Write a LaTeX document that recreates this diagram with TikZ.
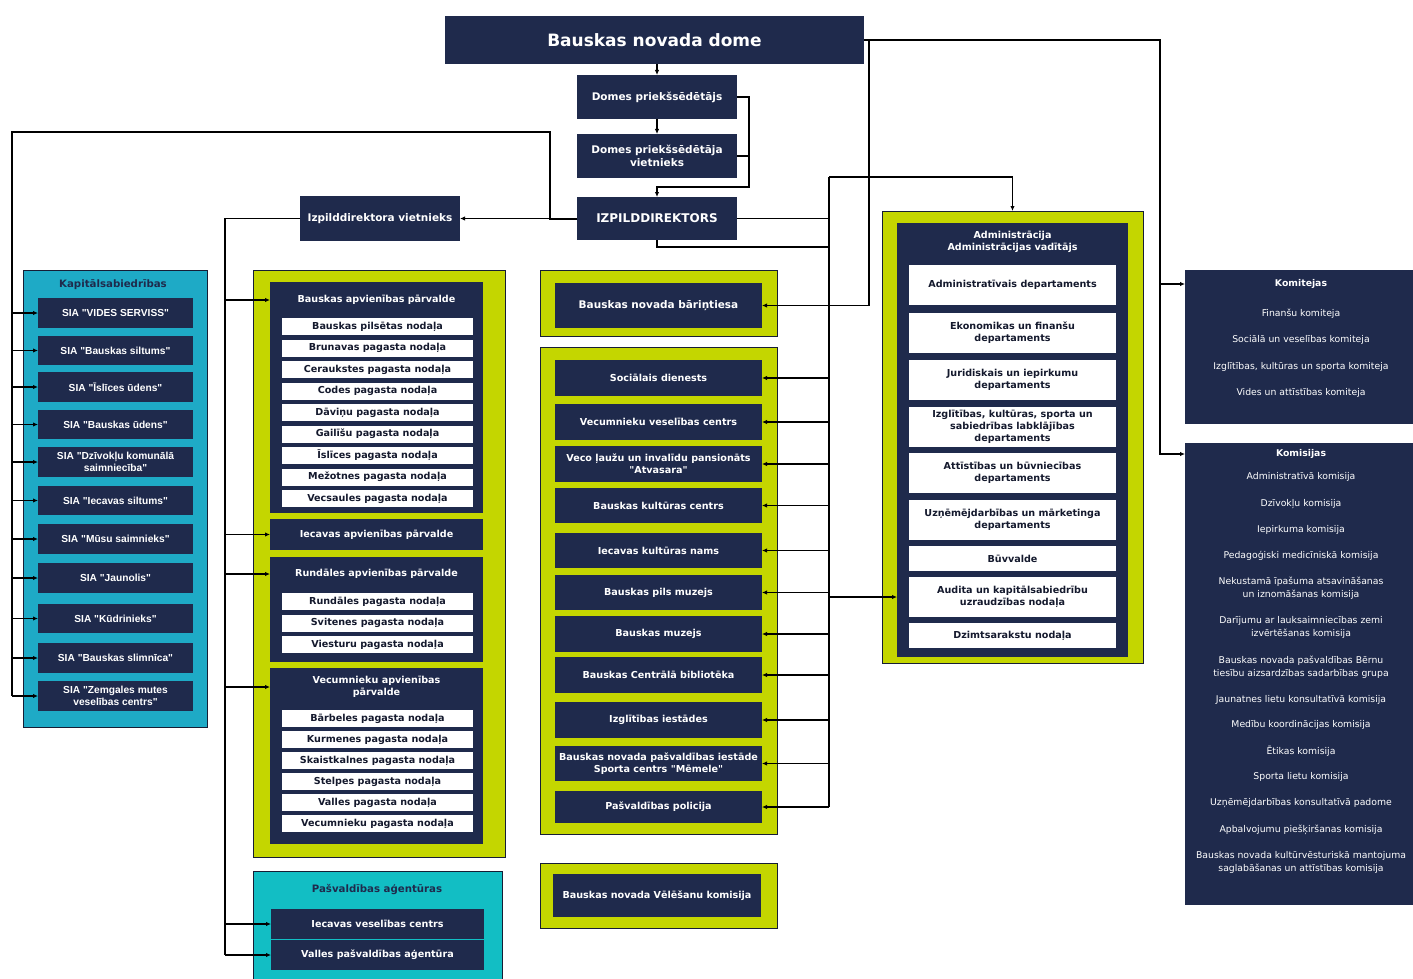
\documentclass[tikz,border=0pt]{standalone}
\usepackage{fontspec}
\setmainfont{DejaVu Sans}[Ligatures=TeXOff]
\newfontfamily\arialfont{Liberation Sans}
\usetikzlibrary{arrows.meta}
\definecolor{navy}{RGB}{31,42,76}
\definecolor{lime}{RGB}{196,214,0}
\definecolor{tealA}{RGB}{30,170,198}
\definecolor{tealB}{RGB}{18,190,196}
\definecolor{itemtxt}{RGB}{20,25,45}
\newcommand{\q}{\symbol{34}}
\tikzset{
 base/.style={inner sep=0pt, outer sep=0pt, align=center, font=\bfseries\fontsize{9.6}{12}\selectfont},
 dk/.style={base, fill=navy, text=white},
 dkbig/.style={dk, font=\bfseries\fontsize{10.5}{13}\selectfont},
 wt/.style={base, fill=white, text=itemtxt},
 sia/.style={dk, font=\arialfont\bfseries\fontsize{10.2}{11.5}\selectfont},
 grp/.style={base, draw=navy!70!black, line width=0.8pt},
 conn/.style={draw=black, line width=1.1pt},
 arr/.style={conn, -{Latex[length=5pt,width=4.5pt]}},
 lbl/.style={inner sep=0pt, outer sep=0pt, align=center, text=white, font=\fontsize{9.3}{13}\selectfont},
 ttl/.style={inner sep=0pt, outer sep=0pt, align=center, font=\bfseries\fontsize{9.6}{12}\selectfont},
}
\newcommand{\rb}[7]{\node[#2, minimum width={(#5-#3)*1pt}, minimum height={(#6-#4)*1pt}] (#1) at ({(#3+#5)/2},{(#4+#6)/2}) {#7};}
\begin{document}
\begin{tikzpicture}[x=1pt,y=-1pt]
\useasboundingbox (0,0) rectangle (1413,979);
\fill[white] (0,0) rectangle (1413,979);
\clip (0,0) rectangle (1413,979);

% ---------- top ----------
\rb{dome}{dk, font=\bfseries\fontsize{17}{20}\selectfont}{445}{16}{864}{64}{Bauskas novada dome}
\rb{pr}{dkbig}{577}{75}{737}{119}{Domes priekšsēdētājs}
\rb{vp}{dkbig}{577}{134}{737}{178}{Domes priekšsēdētāja\\vietnieks}
\rb{izd}{dk, font=\bfseries\fontsize{12}{14}\selectfont}{577}{197}{737}{240}{IZPILDDIREKTORS}
\rb{ivn}{dkbig}{300}{196}{460}{241}{Izpilddirektora vietnieks}

% ---------- Kapitalsabiedribas ----------
\rb{kap}{grp, fill=tealA}{23}{270}{207}{727}{}
\node[ttl, text=navy, font=\bfseries\fontsize{10.2}{12}\selectfont] (kapt) at (113,285) {Kapitālsabiedrības};
\rb{s1}{sia}{38}{298}{193}{328}{SIA \q VIDES SERVISS\q}
\rb{s2}{sia}{38}{336}{193}{365}{SIA \q Bauskas siltums\q}
\rb{s3}{sia}{38}{372}{193}{402}{SIA \q Īslīces ūdens\q}
\rb{s4}{sia}{38}{410}{193}{439}{SIA \q Bauskas ūdens\q}
\rb{s5}{sia}{38}{447}{193}{477}{SIA \q Dzīvokļu komunālā\\saimniecība\q}
\rb{s6}{sia}{38}{486}{193}{515}{SIA \q Iecavas siltums\q}
\rb{s7}{sia}{38}{524}{193}{554}{SIA \q Mūsu saimnieks\q}
\rb{s8}{sia}{38}{563}{193}{593}{SIA \q Jaunolis\q}
\rb{s9}{sia}{38}{604}{193}{633}{SIA \q Kūdrinieks\q}
\rb{s10}{sia}{38}{643}{193}{673}{SIA \q Bauskas slimnīca\q}
\rb{s11}{sia}{38}{681}{193}{711}{SIA \q Zemgales mutes\\veselības centrs\q}

% ---------- apvienibu parvaldes ----------
\rb{gl}{grp, fill=lime}{253}{270}{505}{857}{}
\rb{bap}{dk}{270}{282}{483}{513}{}
\node[ttl, text=white] (bapt) at (376.5,300) {Bauskas apvienības pārvalde};
\rb{b1}{wt}{282}{318}{473}{335}{Bauskas pilsētas nodaļa}
\rb{b2}{wt}{282}{339.5}{473}{356.5}{Brunavas pagasta nodaļa}
\rb{b3}{wt}{282}{361}{473}{378}{Ceraukstes pagasta nodaļa}
\rb{b4}{wt}{282}{382.5}{473}{399.5}{Codes pagasta nodaļa}
\rb{b5}{wt}{282}{404}{473}{421}{Dāviņu pagasta nodaļa}
\rb{b6}{wt}{282}{425.5}{473}{442.5}{Gailīšu pagasta nodaļa}
\rb{b7}{wt}{282}{447}{473}{464}{Īslīces pagasta nodaļa}
\rb{b8}{wt}{282}{468.5}{473}{485.5}{Mežotnes pagasta nodaļa}
\rb{b9}{wt}{282}{490}{473}{507}{Vecsaules pagasta nodaļa}
\rb{iap}{dk}{270}{519}{483}{550}{Iecavas apvienības pārvalde}
\rb{rap}{dk}{270}{557}{483}{662}{}
\node[ttl, text=white] (rapt) at (376.5,574) {Rundāles apvienības pārvalde};
\rb{r1}{wt}{282}{593}{473}{610}{Rundāles pagasta nodaļa}
\rb{r2}{wt}{282}{614.5}{473}{631.5}{Svitenes pagasta nodaļa}
\rb{r3}{wt}{282}{636}{473}{653}{Viesturu pagasta nodaļa}
\rb{vap}{dk}{270}{668}{483}{844}{}
\node[ttl, text=white] (vapt) at (376.5,687) {Vecumnieku apvienības\\pārvalde};
\rb{v1}{wt}{282}{710}{473}{727}{Bārbeles pagasta nodaļa}
\rb{v2}{wt}{282}{731}{473}{748}{Kurmenes pagasta nodaļa}
\rb{v3}{wt}{282}{752}{473}{769}{Skaistkalnes pagasta nodaļa}
\rb{v4}{wt}{282}{773}{473}{790}{Stelpes pagasta nodaļa}
\rb{v5}{wt}{282}{794}{473}{811}{Valles pagasta nodaļa}
\rb{v6}{wt}{282}{815}{473}{832}{Vecumnieku pagasta nodaļa}

% ---------- pasvaldibas agenturas ----------
\rb{ag}{grp, fill=tealB}{253}{871}{502}{990}{}
\node[ttl, text=navy, font=\bfseries\fontsize{10.2}{12}\selectfont] (agt) at (377,890) {Pašvaldības aģentūras};
\rb{ivc}{dk}{271}{909}{484}{939}{Iecavas veselības  centrs}
\rb{vpa}{dk}{271}{940}{484}{970}{Valles pašvaldības aģentūra}

% ---------- middle column ----------
\rb{gb}{grp, fill=lime}{540}{270}{777}{336}{}
\rb{bar}{dkbig}{555}{283}{762}{328}{Bauskas novada bāriņtiesa}
\rb{gm}{grp, fill=lime}{540}{347}{777}{834}{}
\rb{sd}{dk}{555}{360}{762}{396}{Sociālais dienests}
\rb{vvc}{dk}{555}{404}{762}{440}{Vecumnieku veselības centrs}
\rb{vlp}{dk}{555}{446}{762}{482}{Veco ļaužu un invalīdu  pansionāts\\\q Atvasara\q}
\rb{bkc}{dk}{555}{488}{762}{523}{Bauskas kultūras centrs}
\rb{ikn}{dk}{555}{533}{762}{568}{Iecavas kultūras nams}
\rb{bpm}{dk}{555}{575}{762}{610}{Bauskas pils muzejs}
\rb{bm}{dk}{555}{616}{762}{652}{Bauskas muzejs}
\rb{bcb}{dk}{555}{657}{762}{693}{Bauskas Centrālā bibliotēka}
\rb{ii}{dk}{555}{702}{762}{738}{Izglītības iestādes}
\rb{sc}{dk}{555}{746}{762}{781}{Bauskas novada  pašvaldības iestāde\\Sporta centrs \q Mēmele\q}
\rb{pp}{dk}{555}{791}{762}{823}{Pašvaldības policija}
\rb{gv}{grp, fill=lime}{540}{863}{777}{928}{}
\rb{vk}{dk}{553}{874}{761}{917}{Bauskas novada Vēlēšanu komisija}

% ---------- administracija ----------
\rb{adm}{grp, fill=lime}{882}{211}{1143}{663}{}
\rb{admd}{dk}{897}{223}{1128}{657}{}
\node[ttl, text=white] (admt) at (1012.5,241.5) {Administrācija\\Administrācijas vadītājs};
\rb{a1}{wt}{909}{265}{1116}{305}{Administratīvais departaments}
\rb{a2}{wt}{909}{313}{1116}{353}{Ekonomikas un finanšu\\departaments}
\rb{a3}{wt}{909}{360}{1116}{400}{Juridiskais un iepirkumu\\departaments}
\rb{a4}{wt}{909}{407}{1116}{447}{Izglītības, kultūras, sporta un\\sabiedrības labklājības\\departaments}
\rb{a5}{wt}{909}{453}{1116}{493}{Attīstības un būvniecības\\departaments}
\rb{a6}{wt}{909}{500}{1116}{540}{Uzņēmējdarbības un mārketinga\\departaments}
\rb{a7}{wt}{909}{546}{1116}{571}{Būvvalde}
\rb{a8}{wt}{909}{577}{1116}{617}{Audita un kapitālsabiedrību\\uzraudzības nodaļa}
\rb{a9}{wt}{909}{623}{1116}{648}{Dzimtsarakstu nodaļa}

% ---------- komitejas / komisijas ----------
\rb{kmt}{dk}{1185}{270}{1416}{424}{}
\node[ttl, text=white, font=\bfseries\fontsize{9.3}{12}\selectfont] (kmtt) at (1301,284) {Komitejas};
\node[lbl] (k1) at (1301,314) {Finanšu komiteja};
\node[lbl] (k2) at (1301,340) {Sociālā un veselības komiteja};
\node[lbl] (k3) at (1301,367) {Izglītības, kultūras un sporta komiteja};
\node[lbl] (k4) at (1301,393) {Vides un attīstības komiteja};
\rb{kms}{dk}{1185}{443}{1416}{905}{}
\node[ttl, text=white, font=\bfseries\fontsize{9.3}{12}\selectfont] (kmst) at (1301,454) {Komisijas};
\node[lbl] (m1) at (1301,477) {Administratīvā komisija};
\node[lbl] (m2) at (1301,504) {Dzīvokļu komisija};
\node[lbl] (m3) at (1301,530) {Iepirkuma komisija};
\node[lbl] (m4) at (1301,556) {Pedagoģiski medicīniskā komisija};
\node[lbl] (m5) at (1301,588.5) {Nekustamā īpašuma atsavināšanas\\un iznomāšanas komisija};
\node[lbl] (m6) at (1301,627.5) {Darījumu ar lauksaimniecības zemi\\izvērtēšanas komisija};
\node[lbl] (m7) at (1301,667.5) {Bauskas novada pašvaldības Bērnu\\tiesību aizsardzības sadarbības grupa};
\node[lbl] (m8) at (1301,700) {Jaunatnes lietu konsultatīvā komisija};
\node[lbl] (m9) at (1301,725) {Medību koordinācijas komisija};
\node[lbl] (m10) at (1301,751) {Ētikas komisija};
\node[lbl] (m11) at (1301,777) {Sporta lietu komisija};
\node[lbl] (m12) at (1301,803) {Uzņēmējdarbības konsultatīvā padome};
\node[lbl] (m13) at (1301,830) {Apbalvojumu piešķiršanas komisija};
\node[lbl] (m14) at (1301,862.5) {Bauskas novada kultūrvēsturiskā mantojuma\\saglabāšanas un attīstības komisija};

% ---------- connector helper points ----------
\coordinate (jr) at (749,187);
\coordinate (kx) at (1160,0);
\coordinate (bx) at (869,0);
\coordinate (mx) at (829,0);
\coordinate (jt) at (829,177);
\coordinate (jb) at (829,247);
\coordinate (lx) at (550,132);
\coordinate (fx) at (12,132);
\coordinate (vx) at (225,0);

% ---------- connectors ----------
\draw[arr] (pr.north |- dome.south) -- (pr.north);
\draw[arr] (pr.south) -- (vp.north);
\draw[arr] (pr.east) -| (jr) -| (izd.north);
\draw[conn] (vp.east) -- (vp.east -| jr);

\draw[arr] (dome.east) -| (kx |- kmst) -- (kms.west |- kmst);
\draw[arr] (kx |- kmtt) -- (kmt.west |- kmtt);
\draw[arr] (dome.east -| bx) |- (bar.east);

\draw[conn] (izd.east) -- (izd.east -| mx);
\draw[conn] (izd.south) |- (jb);
\draw[arr] (jt) -| (adm.north);
\draw[conn] (jt) -- (jt |- pp.east);
\foreach \n in {sd,vvc,vlp,bkc,ikn,bpm,bm,bcb,ii,sc,pp}
  \draw[arr] (mx |- \n.east) -- (\n.east);
\draw[arr] (mx |- a8) -- (admd.west |- a8);

\draw[arr] (izd.west) -- (ivn.east);
\draw[conn, line width=2pt] (izd.west) -- (izd.west -| lx) -- (lx) -- (fx) -- (fx |- s11.west);
\foreach \n in {s1,s2,s3,s4,s5,s6,s7,s8,s9,s10,s11}
  \draw[arr] (fx |- \n.west) -- (\n.west);

\draw[conn] (ivn.west) -- (ivn.west -| vx) -- (vx |- vpa.west);
\foreach \t/\n in {bapt/bap, iap/iap, rapt/rap, vapt/vap, ivc/ivc, vpa/vpa}
  \draw[arr] (vx |- \t) -- (\n.west |- \t);
\end{tikzpicture}
\end{document}
